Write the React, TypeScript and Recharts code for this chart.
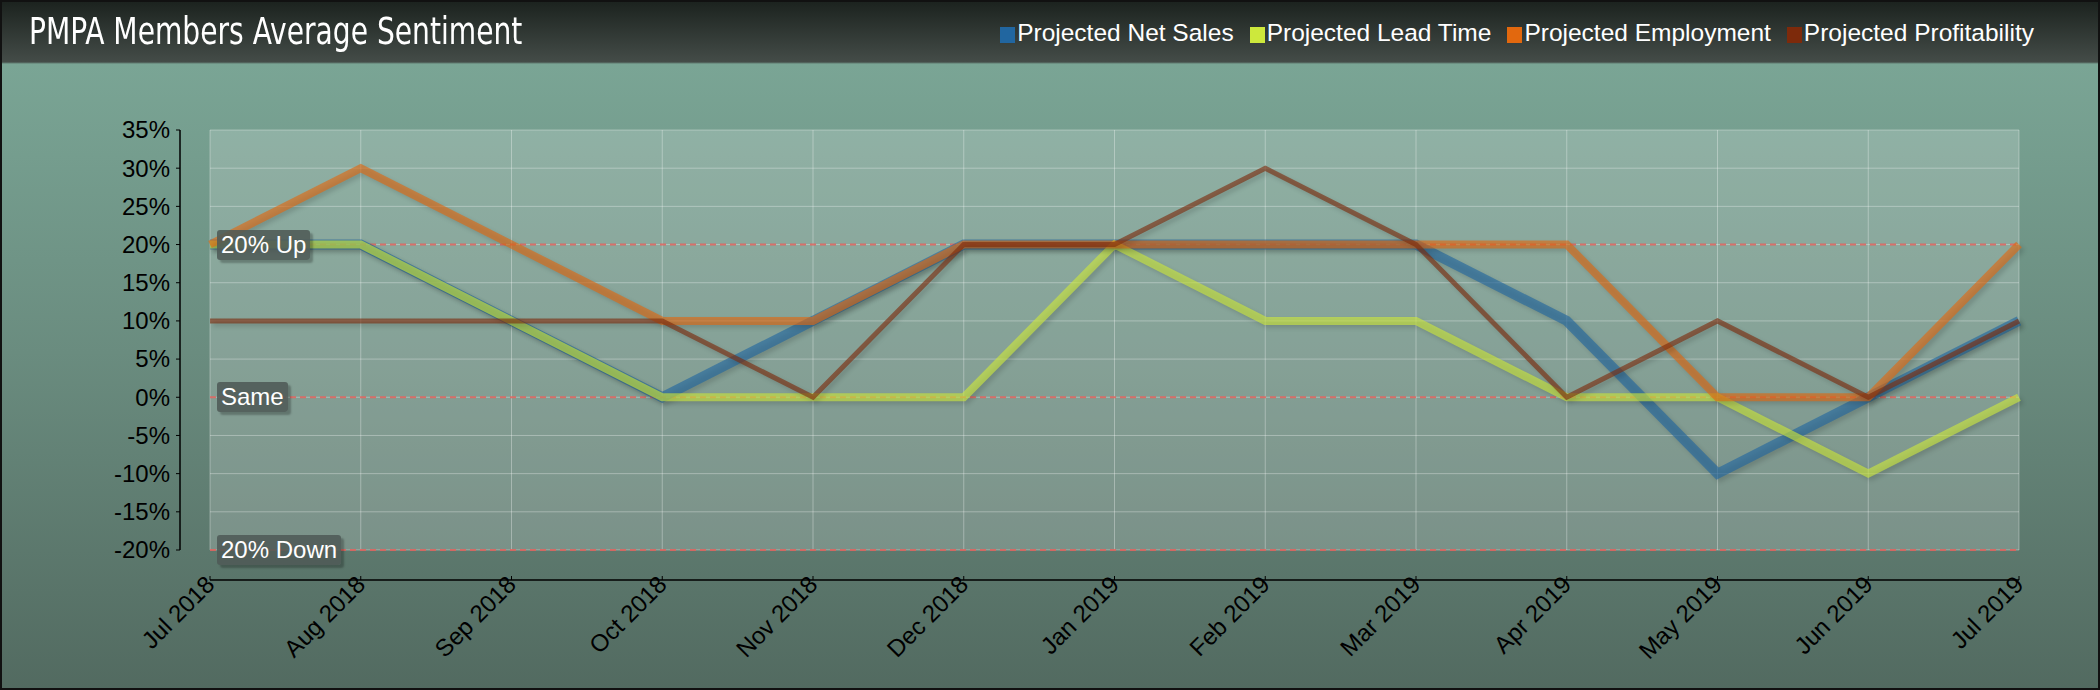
import React from 'react'
import { LineChart, Line, XAxis, YAxis, CartesianGrid, ReferenceLine } from 'recharts'

const MONTHS = [
  'Jul 2018', 'Aug 2018', 'Sep 2018', 'Oct 2018', 'Nov 2018', 'Dec 2018', 'Jan 2019',
  'Feb 2019', 'Mar 2019', 'Apr 2019', 'May 2019', 'Jun 2019', 'Jul 2019',
]
const NET_SALES = [20, 20, 10, 0, 10, 20, 20, 20, 20, 10, -10, 0, 10]
const LEAD_TIME = [20, 20, 10, 0, 0, 0, 20, 10, 10, 0, 0, -10, 0]
const EMPLOYMENT = [20, 30, 20, 10, 10, 20, 20, 20, 20, 20, 0, 0, 20]
const PROFITABILITY = [10, 10, 10, 10, 0, 20, 20, 30, 20, 0, 10, 0, 10]
const Y_TICKS = [-20, -15, -10, -5, 0, 5, 10, 15, 20, 25, 30, 35]
const MARKERS = [
  { value: 20, text: '20% Up' },
  { value: 0, text: 'Same' },
  { value: -20, text: '20% Down' },
]

const SERIES = [
  { key: 'netSales', name: 'Projected Net Sales', color: '#2166a0', width: 10 },
  { key: 'leadTime', name: 'Projected Lead Time', color: '#cde83c', width: 8 },
  { key: 'employment', name: 'Projected Employment', color: '#e2680e', width: 8 },
  { key: 'profitability', name: 'Projected Profitability', color: '#7d2a0b', width: 5 },
]

const data = MONTHS.map((month, i) => ({
  month,
  netSales: NET_SALES[i],
  leadTime: LEAD_TIME[i],
  employment: EMPLOYMENT[i],
  profitability: PROFITABILITY[i],
}))

const FONT = "'Liberation Sans', Arial, sans-serif"
const TITLE_FONT = "'DejaVu Sans Condensed', 'DejaVu Sans', sans-serif"
const AXIS_SHIFT = 30 // axes sit away from the plot, Excel style

const XTick = (props: any) => {
  const { x, y, payload } = props
  const tx = x + 6
  const ty = y + AXIS_SHIFT
  return (
    <text x={tx} y={ty} transform={`rotate(-45 ${tx} ${ty})`} textAnchor="end"
      fontFamily={FONT} fontSize={24} fill="#000">
      {payload.value}
    </text>
  )
}

const YTick = (props: any) => {
  const { x, y, payload } = props
  return (
    <text x={x - AXIS_SHIFT} y={y} dy="0.35em" textAnchor="end"
      fontFamily={FONT} fontSize={24} fill="#000">
      {`${payload.value}%`}
    </text>
  )
}

const MarkerLabel = (props: any) => {
  const { viewBox, text } = props
  return (
    <foreignObject x={viewBox.x + 7} y={viewBox.y - 15} width={220} height={40}>
      <div
        style={{
          display: 'inline-block',
          background: 'rgba(78,90,86,0.88)',
          color: '#fff',
          fontFamily: FONT,
          fontSize: 24,
          lineHeight: '30px',
          height: 30,
          padding: '0 4px',
          borderRadius: 3,
          boxShadow: '3px 3px 2px rgba(0,0,0,0.25)',
          whiteSpace: 'nowrap',
        }}
      >
        {text}
      </div>
    </foreignObject>
  )
}

export default function App() {
  return (
    <div
      style={{
        position: 'absolute',
        left: 0,
        top: 0,
        width: 2100,
        height: 690,
        boxSizing: 'border-box',
        border: '2px solid #111',
        background: 'linear-gradient(to bottom, #1c231f 0px, #444c48 60px, #7aa595 62px, #6a8c7f 350px, #526a60 690px)',
        overflow: 'hidden',
      }}
    >
      <style>{`.recharts-line-curve { filter: drop-shadow(3px 3px 2px rgba(0,0,0,0.22)); }`}</style>
      <div
        style={{
          position: 'absolute',
          left: 27,
          top: 8,
          fontFamily: TITLE_FONT,
          fontSize: 37,
          lineHeight: '44px',
          color: '#fff',
          whiteSpace: 'nowrap',
          transform: 'scaleX(0.845)',
          transformOrigin: 'left center',
        }}
      >
        PMPA Members Average Sentiment
      </div>
      <div
        style={{
          position: 'absolute',
          right: 64,
          top: 15,
          display: 'flex',
          gap: 16,
          fontFamily: FONT,
          fontSize: 24.5,
          lineHeight: '32px',
          color: '#fff',
        }}
      >
        {SERIES.map((s) => (
          <div key={s.key} style={{ display: 'flex', alignItems: 'center' }}>
            <span style={{ width: 15, height: 16, background: s.color, marginRight: 2, marginTop: 4 }} />
            {s.name}
          </div>
        ))}
      </div>
      <div style={{ position: 'absolute', left: -2, top: -2 }}>
        <LineChart width={2100} height={690} data={data}
          margin={{ top: 130, right: 81, bottom: 30, left: 130 }}>
          <CartesianGrid stroke="rgba(255,255,255,0.32)" fill="rgba(255,255,255,0.19)" />
          <XAxis
            dataKey="month"
            interval={0}
            height={110}
            tickSize={4}
            tickMargin={2}
            axisLine={{ stroke: '#000', strokeWidth: 1.5, transform: `translate(0 ${AXIS_SHIFT})` }}
            tickLine={{ stroke: '#000', transform: `translate(0 ${AXIS_SHIFT - 4})` }}
            tick={<XTick />}
          />
          <YAxis
            type="number"
            domain={[-20, 35]}
            ticks={Y_TICKS}
            interval={0}
            width={80}
            tickSize={4}
            tickMargin={6}
            axisLine={{ stroke: '#000', strokeWidth: 1.5, transform: `translate(${-AXIS_SHIFT} 0)` }}
            tickLine={{ stroke: '#000', transform: `translate(${-AXIS_SHIFT} 0)` }}
            tick={<YTick />}
          />
          {MARKERS.map((m) => (
            <ReferenceLine key={`l${m.value}`} y={m.value} stroke="#e0615c" strokeWidth={2}
              strokeOpacity={0.85} strokeDasharray="6 4" />
          ))}
          {SERIES.map((s) => (
            <Line
              key={s.key}
              type="linear"
              dataKey={s.key}
              name={s.name}
              stroke={s.color}
              strokeWidth={s.width}
              strokeOpacity={0.62}
              dot={false}
              activeDot={false}
              isAnimationActive={false}
            />
          ))}
          {MARKERS.map((m) => (
            <ReferenceLine key={`t${m.value}`} y={m.value} stroke="none"
              label={<MarkerLabel text={m.text} />} />
          ))}
        </LineChart>
      </div>
    </div>
  )
}
